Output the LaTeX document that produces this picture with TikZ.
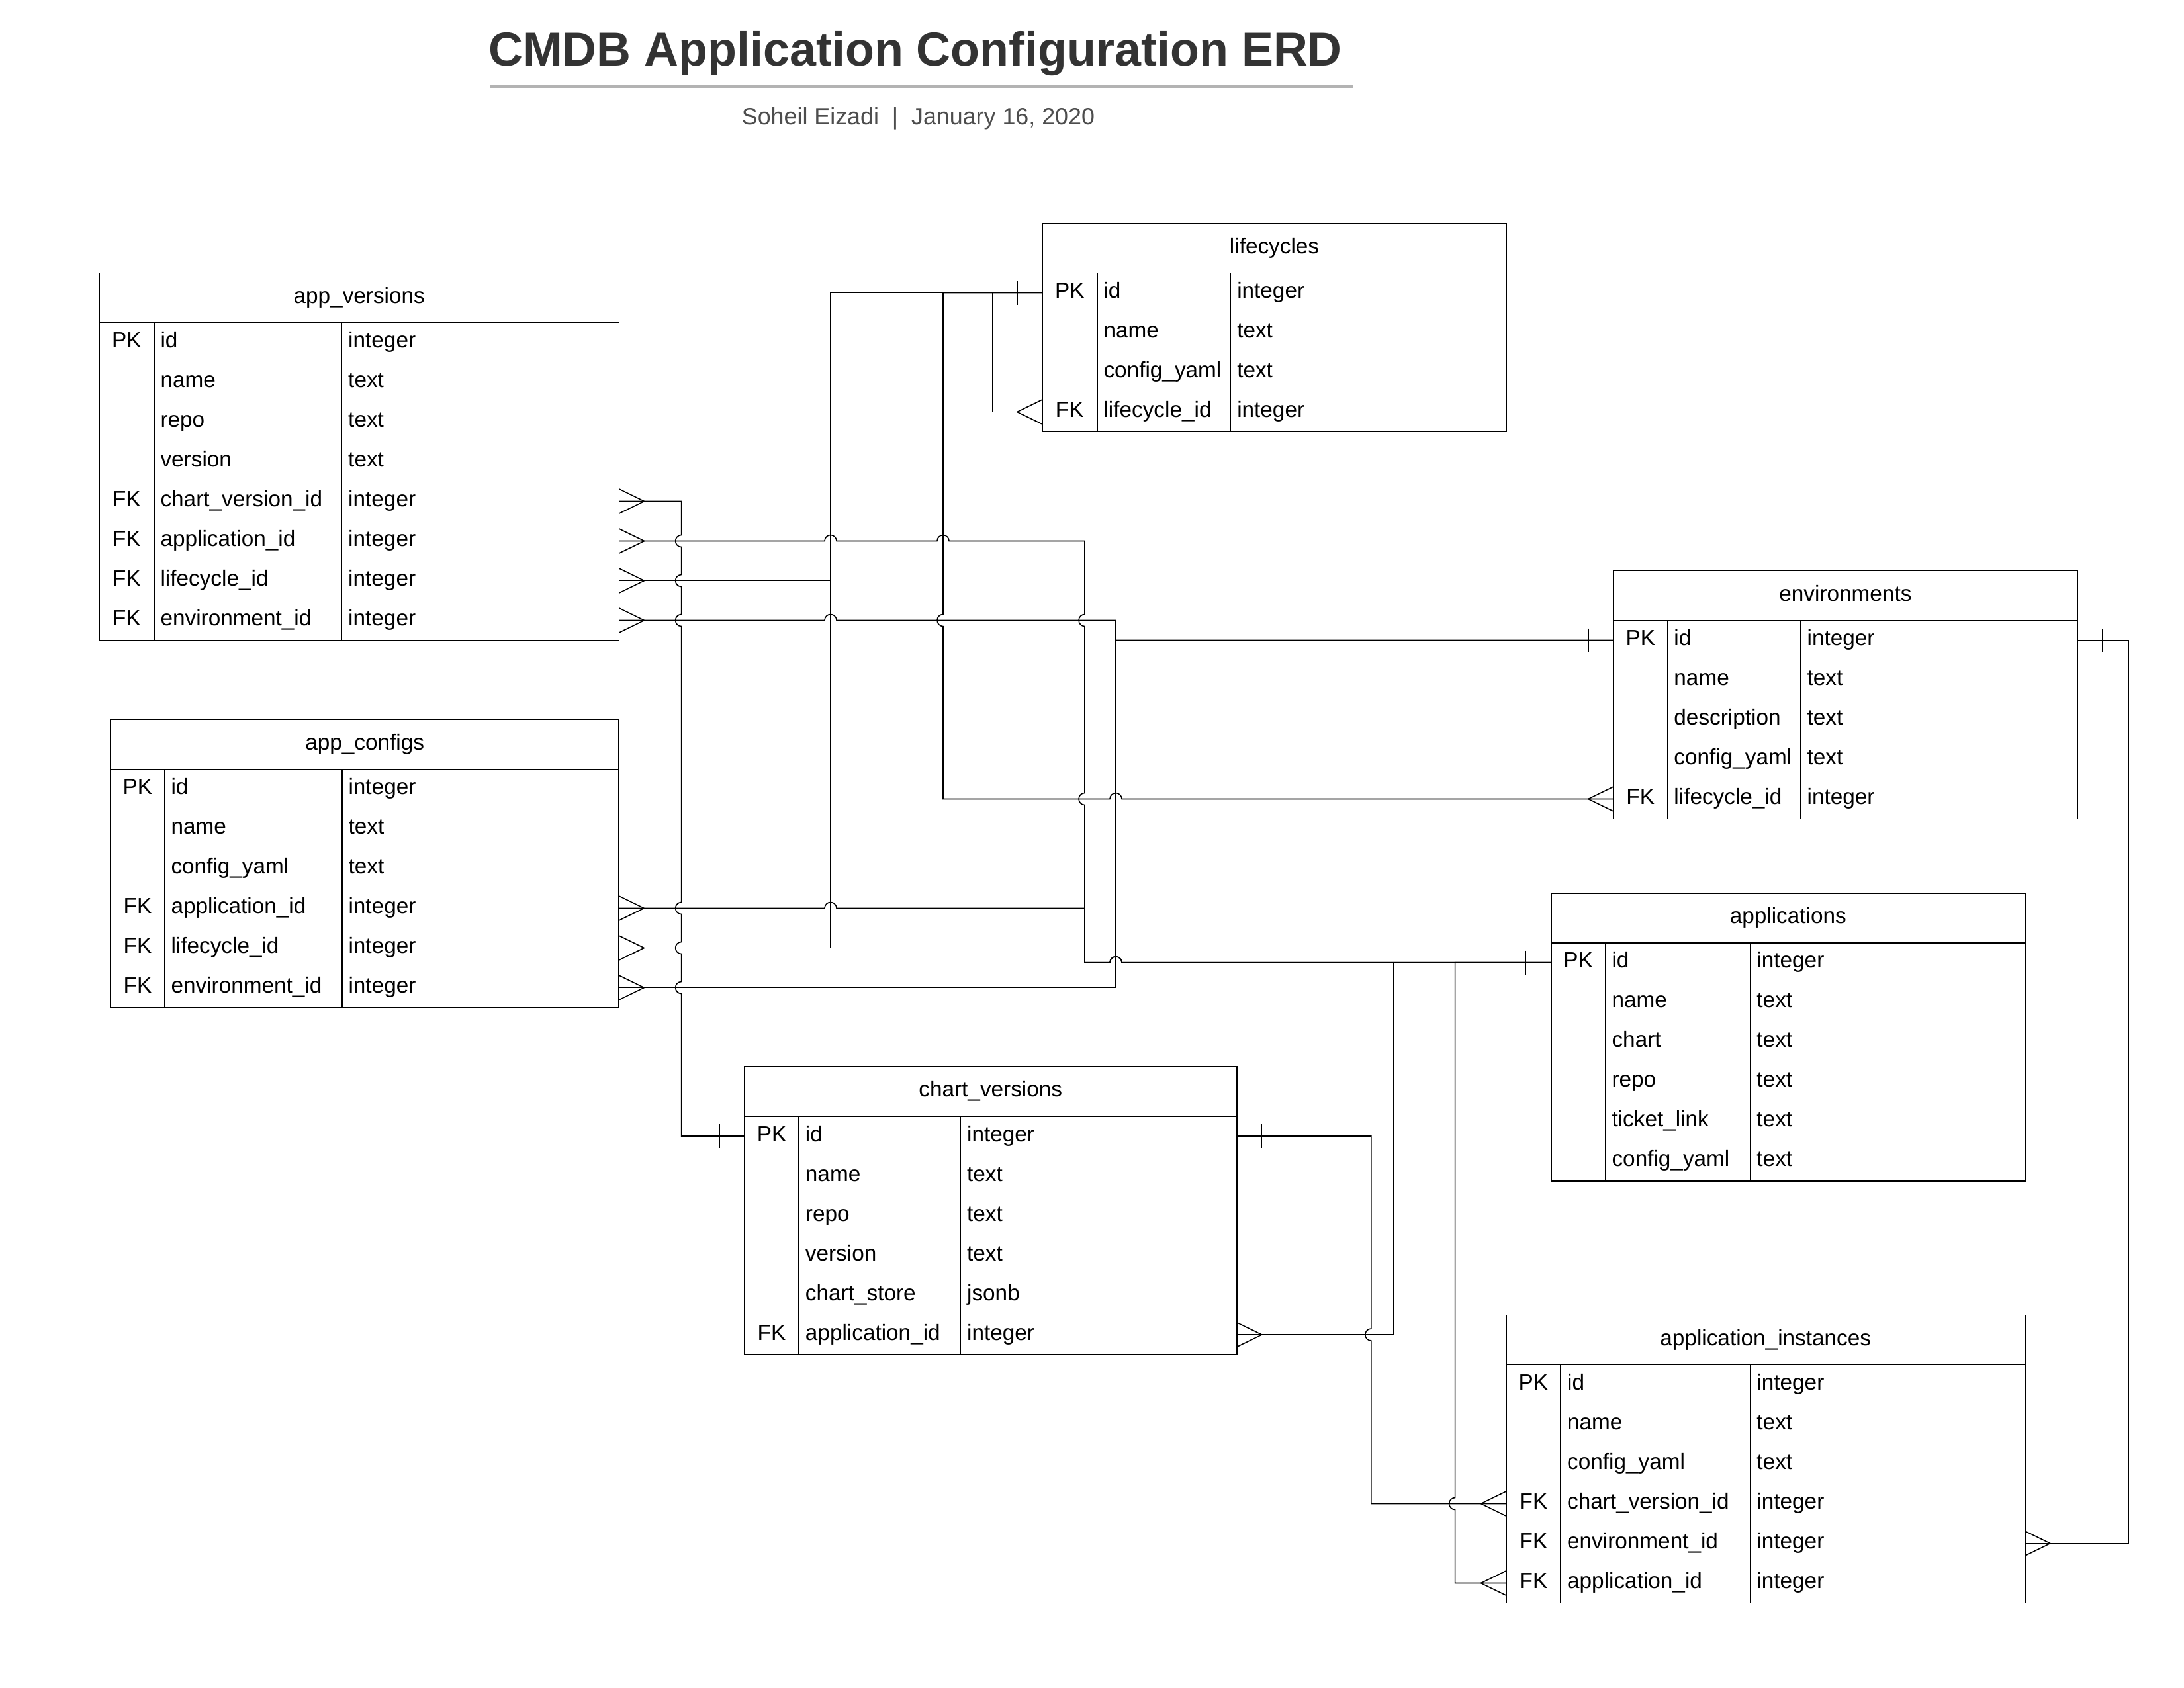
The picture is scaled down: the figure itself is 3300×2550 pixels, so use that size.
\documentclass[tikz,border=0pt]{standalone}
\usepackage{fontspec}
\setmainfont{Liberation Sans}
\definecolor{titlegray}{HTML}{333333}
\definecolor{subgray}{HTML}{4D4D4D}
\definecolor{rulegray}{HTML}{B3B3B3}
\tikzset{
  tframe/.style={draw=black, line width=0.45pt, inner sep=0pt, outer sep=0pt, fill=none},
  tline/.style={draw=black, line width=0.45pt},
  celltext/.style={font=\fontsize{8}{9.6}\selectfont, inner sep=0pt, text=black},
  conn/.style={draw=black, line width=0.38pt},
  crowR/.pic={\draw[conn] (0,-18.5) -- (38,0) -- (0,18.5);},
  crowL/.pic={\draw[conn] (0,-18.5) -- (-38,0) -- (0,18.5);},
  barR/.pic={\draw[conn] (38,-18) -- (38,18);},
  barL/.pic={\draw[conn] (-38,-18) -- (-38,18);}
}
% #1 id, #2 left, #3 pk divider, #4 type divider, #5 right, #6 top, #7 rows count, #8 title, #9 rows
\newcommand{\erdtab}[9]{%
  \pgfmathsetmacro{\erdhb}{#6+75}%
  \pgfmathsetmacro{\erdbot}{#6+75+60*#7}%
  \node[tframe, anchor=north west, minimum width={(#5-#2)*0.24pt}, minimum height={(75+60*#7)*0.24pt}] (#1) at (#2,#6) {};
  \node[celltext, anchor=base] (#1-title) at ({(#2+#5)/2},{#6+37.5+8}) {#8};
  \draw[tline] (#2,\erdhb) -- (#5,\erdhb);
  \draw[tline] (#3,\erdhb) -- (#3,\erdbot);
  \draw[tline] (#4,\erdhb) -- (#4,\erdbot);
  \foreach \k/\n/\t [count=\i] in {#9} {
    \pgfmathsetmacro{\ry}{\erdhb+60*\i-30}
    \node[celltext, anchor=base] (#1-k\i) at ({(#2+#3)/2},{\ry+8}) {\k};
    \node[celltext, anchor=base west] (#1-n\i) at ({#3+9},{\ry+8}) {\n};
    \node[celltext, anchor=base west] (#1-t\i) at ({#4+9},{\ry+8}) {\t};
    \coordinate (#1-W\i) at (#2,\ry);
    \coordinate (#1-E\i) at (#5,\ry);
  }
}
\begin{document}
\begin{tikzpicture}[x=0.24pt, y=-0.24pt]
\useasboundingbox (0,0) rectangle (3300,2550);
\fill[white] (0,0) rectangle (3300,2550);

% title
\node[font=\fontsize{17.25}{20}\selectfont\bfseries, text=titlegray, anchor=base, inner sep=0pt] (title) at (1383,99) {CMDB Application Configuration ERD};
\draw[draw=rulegray, line width=0.96pt] (741,130.7) -- (2044,130.7);
\node[font=\fontsize{8.6}{10}\selectfont, text=subgray, anchor=base, inner sep=0pt] (subtitle) at (1387.5,188) {Soheil Eizadi\ \ |\ \ January 16, 2020};

% tables
\erdtab{av}{150}{232.7}{516.4}{935.5}{412.5}{8}{app\_versions}{PK/id/integer, /name/text, /repo/text, /version/text, FK/chart\_version\_id/integer, FK/application\_id/integer, FK/lifecycle\_id/integer, FK/environment\_id/integer}
\erdtab{ac}{167.2}{248.7}{516.7}{935.2}{1087.5}{6}{app\_configs}{PK/id/integer, /name/text, /config\_yaml/text, FK/application\_id/integer, FK/lifecycle\_id/integer, FK/environment\_id/integer}
\erdtab{lc}{1574.8}{1657.7}{1859.4}{2276.3}{337.5}{4}{lifecycles}{PK/id/integer, /name/text, /config\_yaml/text, FK/lifecycle\_id/integer}
\erdtab{env}{2437.9}{2519.6}{2720.8}{3138.9}{862.5}{5}{environments}{PK/id/integer, /name/text, /description/text, /config\_yaml/text, FK/lifecycle\_id/integer}
\erdtab{app}{2343.6}{2425.7}{2644.6}{3059.9}{1349.7}{6}{applications}{PK/id/integer, /name/text, /chart/text, /repo/text, /ticket\_link/text, /config\_yaml/text}
\erdtab{cv}{1124.9}{1207.1}{1451.3}{1868.6}{1612}{6}{chart\_versions}{PK/id/integer, /name/text, /repo/text, /version/text, /chart\_store/jsonb, FK/application\_id/integer}
\erdtab{ai}{2275.6}{2358.3}{2644.6}{3059.9}{1987.5}{6}{application\_instances}{PK/id/integer, /name/text, /config\_yaml/text, FK/chart\_version\_id/integer, FK/environment\_id/integer, FK/application\_id/integer}

% connectors
% app_versions.chart_version_id -> chart_versions.id
\draw[conn] (av-E5) -- (1029.6,757.5)
  -- (1029.6,808.5) arc[start angle=-90,end angle=-270,radius=9]
  -- (1029.6,868.5) arc[start angle=-90,end angle=-270,radius=9]
  -- (1029.6,928.5) arc[start angle=-90,end angle=-270,radius=9]
  -- (1029.6,1363.5) arc[start angle=-90,end angle=-270,radius=9]
  -- (1029.6,1423.5) arc[start angle=-90,end angle=-270,radius=9]
  -- (1029.6,1483.5) arc[start angle=-90,end angle=-270,radius=9]
  -- (1029.6,1717) -- (cv-W1);
% app_versions.application_id -> applications.id
\draw[conn] (av-E6) -- (1246,817.5) arc[start angle=180,end angle=360,radius=9]
  -- (1416,817.5) arc[start angle=180,end angle=360,radius=9]
  -- (1639,817.5)
  -- (1639,928.5) arc[start angle=-90,end angle=-270,radius=9]
  -- (1639,1198.5) arc[start angle=-90,end angle=-270,radius=9]
  -- (1639,1454.7) -- (1677,1454.7) arc[start angle=180,end angle=360,radius=9]
  -- (app-W1);
% app_versions.lifecycle_id -> lifecycles.id
\draw[conn] (av-E7) -- (1255,877.5) -- (1255,442.5) -- (lc-W1);
% app_versions.environment_id -> environments.id
\draw[conn] (av-E8) -- (1246,937.5) arc[start angle=180,end angle=360,radius=9]
  -- (1686,937.5) -- (1686,967.5) -- (env-W1);
% lifecycles.lifecycle_id -> lifecycles.id
\draw[conn] (lc-W4) -- (1500,622.5) -- (1500,442.5) -- (lc-W1);
% environments.lifecycle_id -> lifecycles.id
\draw[conn] (env-W5) -- (1695,1207.5) arc[start angle=0,end angle=-180,radius=9]
  -- (1425,1207.5)
  -- (1425,946.5) arc[start angle=90,end angle=270,radius=9]
  -- (1425,442.5) -- (lc-W1);
% app_configs.application_id -> applications.id
\draw[conn] (ac-E4) -- (1246,1372.5) arc[start angle=180,end angle=360,radius=9]
  -- (1639,1372.5) -- (1639,1454.7) -- (1677,1454.7) arc[start angle=180,end angle=360,radius=9]
  -- (app-W1);
% app_configs.lifecycle_id -> lifecycles.id
\draw[conn] (ac-E5) -- (1255,1432.5) -- (1255,442.5) -- (lc-W1);
% app_configs.environment_id -> environments.id
\draw[conn] (ac-E6) -- (1686,1492.5) -- (1686,967.5) -- (env-W1);
% chart_versions.application_id -> applications.id
\draw[conn] (cv-E6) -- (2105.5,2017) -- (2105.5,1454.7) -- (app-W1);
% application_instances.chart_version_id -> chart_versions.id
\draw[conn] (cv-E1) -- (2071.8,1717)
  -- (2071.8,2008) arc[start angle=-90,end angle=-270,radius=9]
  -- (2071.8,2272.5) -- (ai-W4);
% application_instances.application_id -> applications.id
\draw[conn] (ai-W6) -- (2198.6,2392.5)
  -- (2198.6,2281.5) arc[start angle=90,end angle=270,radius=9]
  -- (2198.6,1454.7) -- (app-W1);
% application_instances.environment_id -> environments.id
\draw[conn] (env-E1) -- (3216,967.5) -- (3216,2332.5) -- (ai-E5);

% crow's feet (many)
\pic at (av-E5) {crowR};
\pic at (av-E6) {crowR};
\pic at (av-E7) {crowR};
\pic at (av-E8) {crowR};
\pic at (ac-E4) {crowR};
\pic at (ac-E5) {crowR};
\pic at (ac-E6) {crowR};
\pic at (lc-W4) {crowL};
\pic at (env-W5) {crowL};
\pic at (cv-E6) {crowR};
\pic at (ai-W4) {crowL};
\pic at (ai-W6) {crowL};
\pic at (ai-E5) {crowR};
% bars (one)
\pic at (cv-W1) {barL};
\pic at (lc-W1) {barL};
\pic at (env-W1) {barL};
\pic at (app-W1) {barL};
\pic at (cv-E1) {barR};
\pic at (env-E1) {barR};
\end{tikzpicture}
\end{document}
